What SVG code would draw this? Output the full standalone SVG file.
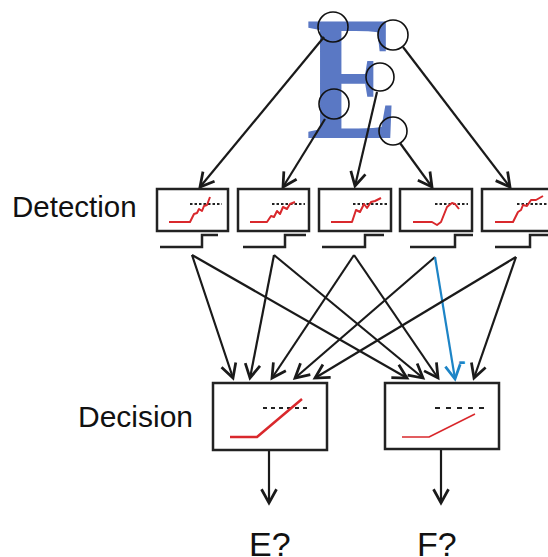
<svg xmlns="http://www.w3.org/2000/svg" width="548" height="557" viewBox="0 0 548 557">
<style>
.lbl{font-family:"Liberation Sans",Arial,sans-serif;fill:#111}
.box{fill:#fff;stroke:#222;stroke-width:2.5}
.step{fill:none;stroke:#222;stroke-width:2.5}
.red{fill:none;stroke:#d9282c;stroke-width:2;stroke-linejoin:round}
.thr{fill:none;stroke:#222;stroke-width:2;stroke-dasharray:2.5,2}
.thr2{fill:none;stroke:#222;stroke-width:2;stroke-dasharray:4,4}
.c{fill:none;stroke:#111;stroke-width:1.6}
.ar{fill:none;stroke:#1a1a1a;stroke-width:2.2;marker-end:url(#ah)}
.ab{fill:none;stroke:#1d84c6;stroke-width:2.2;marker-end:url(#ahb)}
</style>
<defs>
<marker id="ah" markerUnits="userSpaceOnUse" markerWidth="20" markerHeight="20" refX="0" refY="0" viewBox="-12 -8 14 16" orient="auto">
<path d="M-11,-6 L0,0 L-11,6" fill="none" stroke="#1a1a1a" stroke-width="2.2"/>
</marker>
<marker id="ahb" markerUnits="userSpaceOnUse" markerWidth="20" markerHeight="20" refX="0" refY="0" viewBox="-12 -8 14 16" orient="auto">
<path d="M-11,-6 L0,0 L-11,6" fill="none" stroke="#1d84c6" stroke-width="2.2"/>
</marker>
</defs>
<rect width="548" height="557" fill="#fff"/>

<g id="letterE">
<text transform="translate(306,138) scale(0.78,1)" x="0" y="0" font-family="'Liberation Serif','Times New Roman',serif" font-size="178" font-weight="bold" fill="#5a78c4">E</text>
<circle class="c" cx="333" cy="27" r="15"/>
<circle class="c" cx="393" cy="35" r="15"/>
<circle class="c" cx="380" cy="77" r="14"/>
<circle class="c" cx="334" cy="104" r="15"/>
<circle class="c" cx="393" cy="131" r="14"/>
</g>

<g id="connectors">
<line class="ar" x1="324" y1="37" x2="200" y2="187"/>
<line class="ar" x1="325" y1="119" x2="283" y2="187"/>
<line class="ar" x1="377" y1="92" x2="355" y2="186"/>
<line class="ar" x1="400" y1="143" x2="432" y2="187"/>
<line class="ar" x1="403" y1="47" x2="510" y2="187"/>

<line class="ar" x1="192" y1="255" x2="233" y2="378"/>
<line class="ar" x1="192" y1="255" x2="407" y2="378"/>
<line class="ar" x1="274" y1="255" x2="250" y2="378"/>
<line class="ar" x1="274" y1="255" x2="423" y2="378"/>
<line class="ar" x1="354" y1="255" x2="272" y2="378"/>
<line class="ar" x1="354" y1="255" x2="438" y2="378"/>
<line class="ar" x1="435" y1="257" x2="295" y2="378"/>
<line class="ab" x1="435" y1="257" x2="455" y2="379"/>
<line class="ar" x1="516" y1="257" x2="315" y2="378"/>
<line class="ar" x1="516" y1="257" x2="474" y2="378"/>

<line class="ar" x1="269" y1="450" x2="269" y2="503"/>
<line class="ar" x1="441" y1="450" x2="441" y2="503"/>
<text x="462" y="368" text-anchor="middle" font-family="'Liberation Sans',Arial,sans-serif" font-size="22" font-weight="bold" fill="#1d84c6">-</text>
</g>

<text class="lbl" x="12" y="217" font-size="29.5">Detection</text>
<text class="lbl" x="78" y="427" font-size="30">Decision</text>

<g id="det1">
<rect class="box" x="157" y="189" width="71" height="42"/>
<path class="thr" d="M190,204 H222"/>
<polyline class="red" points="169,222 190,222 194,214 197,213 199,209 202,211 204,206 207,205 210,197"/>
<path class="step" d="M160,247 H202 V235 H218"/>
</g>
<g id="det2">
<rect class="box" x="238" y="189" width="71" height="42"/>
<path class="thr" d="M272,204 H305"/>
<polyline class="red" points="250,222 267,222 271,216 274,217 277,211 280,214 283,207 287,209 290,204 295,202"/>
<path class="step" d="M243,247 H285 V235 H306"/>
</g>
<g id="det3">
<rect class="box" x="319" y="189" width="72" height="42"/>
<path class="thr" d="M353,204 H388"/>
<polyline class="red" points="331,222 352,222 356,210 360,212 364,204 367,208 371,202 375,201 381,198"/>
<path class="step" d="M322,247 H365 V235 H384"/>
</g>
<g id="det4">
<rect class="box" x="400" y="189" width="72" height="42"/>
<path class="thr" d="M435,204 H468"/>
<polyline class="red" points="413,222 432,222 437,225 441,222 447,207 452,203 455,204 459,209"/>
<path class="step" d="M410,247 H455 V235 H473"/>
</g>
<g id="det5">
<rect class="box" x="482" y="189" width="72" height="42"/>
<path class="thr" d="M517,204 H548"/>
<polyline class="red" points="495,222 513,222 518,212 521,210 523,205 527,206 531,200 536,200 543,196"/>
<path class="step" d="M495,247 H530 V235 H548"/>
</g>

<g id="decE">
<rect class="box" x="213" y="383" width="114" height="67"/>
<path class="thr2" d="M263,408 H311"/>
<polyline class="red" points="230,437 257,437 302,399" style="stroke-width:2.5"/>
</g>
<g id="decF">
<rect class="box" x="385" y="383" width="114" height="66"/>
<path class="thr2" d="M435,408 H484" style="stroke-dasharray:5,6"/>
<polyline class="red" points="402,437 429,437 475,414" style="stroke-width:1.5"/>
</g>

<text class="lbl" x="249" y="556" font-size="34">E?</text>
<text class="lbl" x="417" y="556" font-size="34">F?</text>
</svg>
